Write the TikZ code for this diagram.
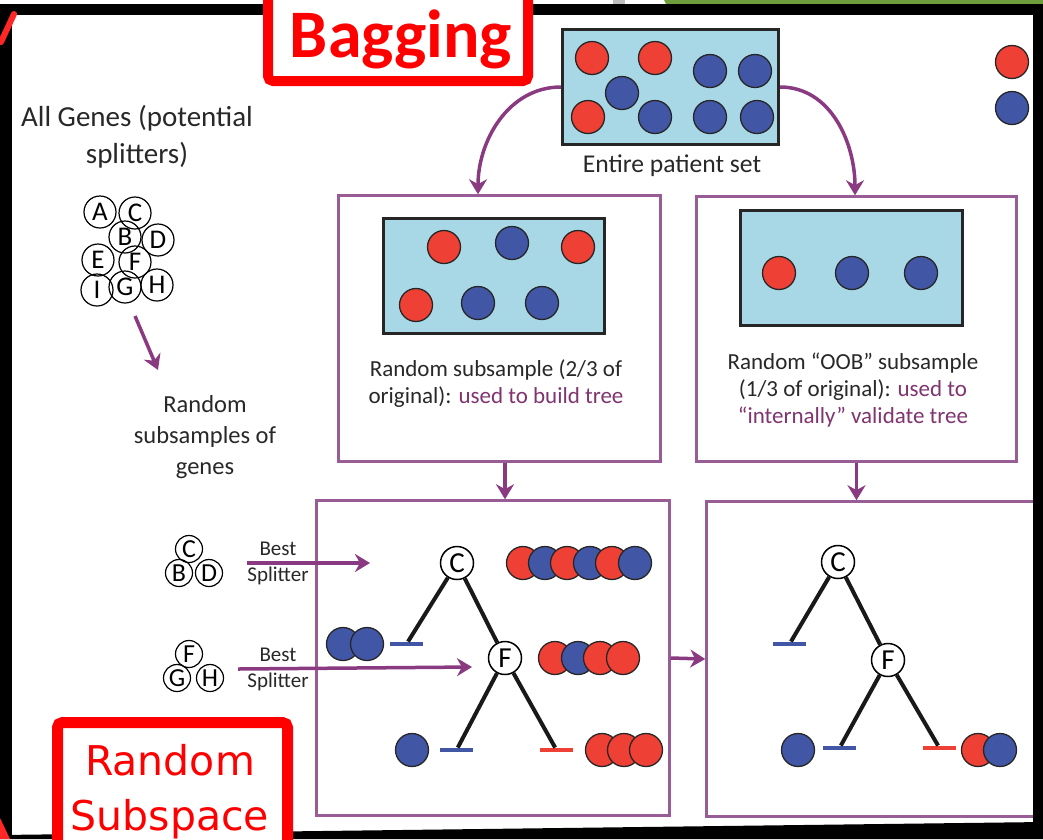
\documentclass[tikz,border=0pt]{standalone}
\usepackage{fontspec}
\setmainfont{Carlito}
\newfontfamily\subspacefont{DejaVu Sans}
\usetikzlibrary{arrows.meta}

\definecolor{arrowpurple}{RGB}{138,58,128}
\definecolor{boxpurple}{RGB}{152,92,150}
\definecolor{textpurple}{RGB}{128,52,112}
\definecolor{samplered}{RGB}{238,64,52}
\definecolor{sampleblue}{RGB}{66,86,166}
\definecolor{sampleback}{RGB}{168,216,230}
\definecolor{textgray}{RGB}{40,40,40}
\definecolor{slidegreen}{RGB}{110,158,62}

\begin{document}
\begin{tikzpicture}[x=1pt, y=-1pt,
rednode/.style={circle, draw=black!85, fill=samplered, line width=1.3pt, minimum size=33pt, inner sep=0pt},
bluenode/.style={rednode, fill=sampleblue},
genenode/.style={circle, draw=black, line width=1.2pt, minimum size=32pt, inner sep=0pt, font=\fontsize{27}{27}\selectfont},
smallgene/.style={genenode, minimum size=27pt, font=\fontsize{26}{26}\selectfont},
splitnode/.style={circle, draw=black, fill=white, line width=1.5pt, minimum size=33pt, inner sep=0pt, font=\fontsize{29}{29}\selectfont},
setbox/.style={rectangle, draw=black!85, fill=sampleback, line width=3pt, inner sep=0pt},
stepbox/.style={rectangle, draw=boxpurple, line width=2.5pt, inner sep=0pt},
blueleaf/.style={rectangle, fill=sampleblue, minimum width=33pt, minimum height=4.5pt, inner sep=0pt},
redleaf/.style={blueleaf, fill=samplered},
branch/.style={line width=4pt, black!90},
to/.style={->, >={Stealth[length=15pt, width=18pt]}, line width=3.5pt, arrowpurple},
txt/.style={text=textgray, align=center, inner sep=0pt},
]
\fill[white] (0,0) rectangle (1043,839);
\useasboundingbox (0,0) rectangle (1043,839);

%boxes
\node[setbox, minimum width=216pt, minimum height=115pt] (allset) at (670.5,87) {};
\node[stepbox, minimum width=322pt, minimum height=266pt] (sub1) at (499.5,328.5) {};
\node[setbox, minimum width=221pt, minimum height=115pt] (in1) at (494,276) {};
\node[stepbox, minimum width=320pt, minimum height=265pt] (sub2) at (856.5,329) {};
\node[setbox, minimum width=222pt, minimum height=115pt] (in2) at (851.5,268) {};
\node[stepbox, minimum width=353pt, minimum height=315pt] (tree1) at (493,658) {};
\node[stepbox, minimum width=353pt, minimum height=315pt] (tree2) at (883,659) {};

%patients
\node[rednode] (e1) at (592,58) {};
\node[rednode] (e2) at (655,58) {};
\node[bluenode] (e3) at (710,71) {};
\node[bluenode] (e4) at (755,71) {};
\node[rednode] (e5) at (588,117) {};
\node[bluenode] (e6) at (622,93) {};
\node[bluenode] (e7) at (655,117) {};
\node[bluenode] (e8) at (710,117) {};
\node[bluenode] (e9) at (757,117) {};
\node[txt, font=\fontsize{25.6}{30}\selectfont] (settext) at (672,166) {Entire patient set};
\node[rednode] (legred) at (1012,62) {};
\node[bluenode] (legblue) at (1012,108) {};

\node[rednode] (s1) at (444,247) {};
\node[bluenode] (s2) at (512,243) {};
\node[rednode] (s3) at (578,247) {};
\node[rednode] (s4) at (416,305) {};
\node[bluenode] (s5) at (478,303) {};
\node[bluenode] (s6) at (542,303) {};
\node[txt, font=\fontsize{23}{27}\selectfont] (sub1text) at (496,384) {Random subsample (2/3 of\\original): \textcolor{textpurple}{used to build tree}};

\node[rednode] (o1) at (779,273) {};
\node[bluenode] (o2) at (852,273) {};
\node[bluenode] (o3) at (921,273) {};
\node[txt, font=\fontsize{23}{27}\selectfont] (sub2text) at (853,390) {Random “OOB” subsample\\(1/3 of original): \textcolor{textpurple}{used to}\\\textcolor{textpurple}{“internally” validate tree}};

%genes
\node[txt, font=\fontsize{29}{37}\selectfont] (allgenes) at (137,137) {All Genes (potential\\splitters)};
\node[genenode] (gA) at (100,212) {A};
\node[genenode] (gC) at (135,213) {C};
\node[genenode] (gB) at (125,237) {B};
\node[genenode] (gD) at (158,240) {D};
\node[genenode] (gE) at (98,260) {E};
\node[genenode] (gF) at (135,262) {F};
\node[genenode] (gG) at (125,287) {G};
\node[genenode] (gI) at (97,290) {I};
\node[genenode] (gH) at (157,285) {H};
\coordinate (gfrom) at (135,316);
\coordinate (gto) at (158,370);
\node[txt, font=\fontsize{24.5}{31}\selectfont] (subgenes) at (205,437) {Random\\subsamples of\\genes};

\node[smallgene] (sC1) at (189,549) {C};
\node[smallgene] (sB1) at (179,573) {B};
\node[smallgene] (sD1) at (209,573) {D};
\node[txt, font=\fontsize{21}{26}\selectfont] (best1) at (278,563) {Best\\Splitter};
\node[smallgene] (sF2) at (189,654) {F};
\node[smallgene] (sG2) at (177,678) {G};
\node[smallgene] (sH2) at (210,678) {H};
\node[txt, font=\fontsize{21}{26}\selectfont] (best2) at (278,669) {Best\\Splitter};
\coordinate (cin) at (370,563);
\coordinate (fin) at (472,667);

%tree built on the subsample
\node[splitnode] (c1) at (457,563) {C};
\node[splitnode] (f1) at (505,658) {F};
\node[blueleaf] (la1) at (406.5,644) {};
\node[blueleaf] (lb1) at (456.5,750) {};
\node[redleaf] (lc1) at (556.5,750) {};
\node[rednode] (t1) at (523,563) {};
\node[bluenode] (t2) at (545,563) {};
\node[rednode] (t3) at (567,563) {};
\node[bluenode] (t4) at (590,563) {};
\node[rednode] (t5) at (612,563) {};
\node[bluenode] (t6) at (635,563) {};
\node[rednode] (u1) at (555,658) {};
\node[bluenode] (u2) at (578,658) {};
\node[rednode] (u3) at (600,658) {};
\node[rednode] (u4) at (623,658) {};
\node[bluenode] (v1) at (343,644) {};
\node[bluenode] (v2) at (367,644) {};
\node[bluenode] (w1) at (412,750) {};
\node[rednode] (w2) at (602,750) {};
\node[rednode] (w3) at (624,750) {};
\node[rednode] (w4) at (646,750) {};

%same tree on the OOB subsample
\node[splitnode] (c2) at (838,562) {C};
\node[splitnode] (f2) at (888,660) {F};
\node[blueleaf] (la2) at (789.5,644) {};
\node[blueleaf] (lb2) at (839.5,748) {};
\node[redleaf] (lc2) at (939.5,748) {};
\node[bluenode] (x1) at (798,750) {};
\node[rednode] (x2) at (978,750) {};
\node[bluenode] (x3) at (1000,750) {};

%connections
\draw[branch] (c1) -- (la1);
\draw[branch] (c1) -- (f1);
\draw[branch] (f1) -- (lb1);
\draw[branch] (f1) -- (lc1);
\draw[branch] (c2) -- (la2);
\draw[branch] (c2) -- (f2);
\draw[branch] (f2) -- (lb2);
\draw[branch] (f2) -- (lc2);
\draw[to] (allset.west) to[out=180, in=90] ([xshift=-21.5pt]sub1.north);
\draw[to] (allset.east) to[out=0, in=90] ([xshift=-1.5pt]sub2.north);
\draw[to] ([xshift=5.5pt]sub1.south) -- ([xshift=5.5pt]sub1.south |- tree1.north);
\draw[to] (sub2.south) -- (sub2.south |- tree2.north);
\draw[to] (tree1.east) -- (tree2.west);
\draw[to] (gfrom) -- (gto);
\draw[to] (best1.west) -- (cin);
\draw[to] ([xshift=-9pt]best2.west) -- (fin);

%window frame
\fill[black!25] (613,0) rectangle (625,4);
\fill[slidegreen] (664,0) -- (1043,0) -- (1043,4) -- (666,4) -- cycle;
\fill[black] (0,4) rectangle (1043,15);
\fill[black] (0,4) rectangle (12,839);
\fill[black] (1033,4) rectangle (1043,839);
\fill[black] (0,835) -- (1043,822) -- (1043,839) -- (0,839) -- cycle;
\draw[red!85, line width=6pt, line cap=round] (1,42) -- (14,14);
\fill[red!85] (0,818) -- (10,839) -- (0,839) -- cycle;

%labels
\draw[red, line width=10pt, rounded corners=5pt, fill=white] (268,-20) rectangle (528,81);
\node[anchor=base, text=red, font=\fontsize{68}{68}\selectfont\bfseries] (bagging) at (401,57) {Bagging};
\draw[red, line width=11pt, rounded corners=5pt, fill=white] (57.5,722.5) rectangle (287.5,880);
\node[text=red, align=center, font=\subspacefont\fontsize{41}{55}\selectfont] (subspace) at (170,792) {Random\\Subspace};
\end{tikzpicture}
\end{document}
